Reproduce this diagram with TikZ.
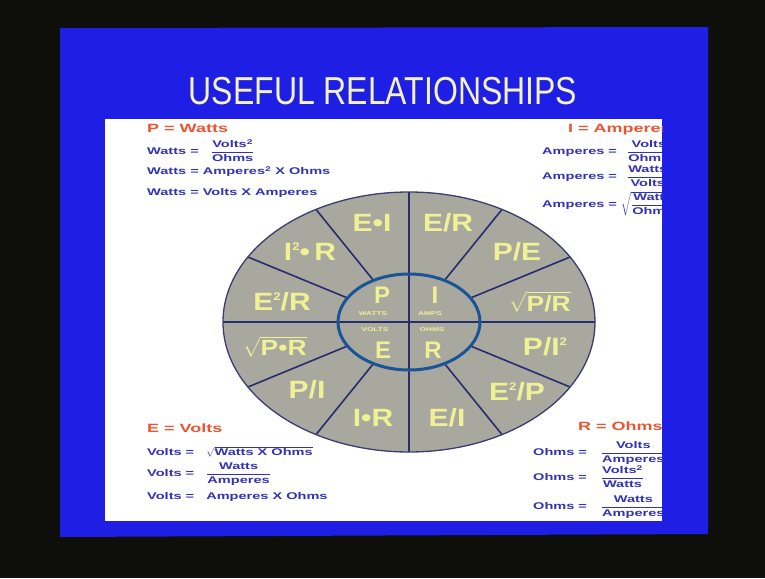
\documentclass[tikz,border=0pt]{standalone}
\usepackage{amsmath}
\usepackage{fontspec}
\setmainfont{Liberation Sans}
\newfontfamily\titlefont[FakeStretch=0.82]{Liberation Sans}
\newfontfamily\wheelfont[FakeStretch=1.2]{Liberation Sans}
\newfontfamily\rulefont[FakeStretch=1.5]{Liberation Sans}
\usetikzlibrary{positioning,calc}

\definecolor{backdrop}{RGB}{14,15,10}
\definecolor{slideblue}{RGB}{30,30,228}
\definecolor{titleyellow}{RGB}{242,242,195}
\definecolor{wheelgray}{RGB}{168,168,158}
\definecolor{spokeblue}{RGB}{40,45,110}
\definecolor{hubblue}{RGB}{25,85,150}
\definecolor{labelyellow}{RGB}{240,240,150}
\definecolor{headred}{RGB}{235,85,50}
\definecolor{ruleblue}{RGB}{50,50,180}

% fraction set at full text size
\newcommand{\ratio}[2]{\genfrac{}{}{0.4pt}{0}{\text{#1}}{\text{#2}}}
% small raised square on the wheel labels
\newcommand{\sqr}{\raisebox{0.75ex}{\fontsize{11}{11}\selectfont 2}}

\begin{document}
\begin{tikzpicture}[x=1pt,y=-1pt,
    sector/.style={text=labelyellow,font=\wheelfont\bfseries\fontsize{25}{25}\selectfont},
    rootsector/.style={sector,font=\wheelfont\bfseries\fontsize{22}{22}\selectfont},
    hub/.style={text=labelyellow,font=\bfseries\fontsize{24}{24}\selectfont},
    unit/.style={text=labelyellow,inner sep=0pt,font=\rulefont\bfseries\fontsize{5.5}{5.5}\selectfont},
    head/.style={anchor=mid west,inner sep=0pt,text=headred,font=\rulefont\bfseries\fontsize{12}{12}\selectfont},
    rule/.style={anchor=mid west,inner sep=0pt,text=ruleblue,font=\rulefont\bfseries\fontsize{9.7}{9.7}\selectfont},
    spoke/.style={draw=spokeblue,line width=1.6pt}]
    \useasboundingbox (0,0) rectangle (765,578);
    \fill[backdrop] (0,0) rectangle (765,578);
    \fill[slideblue] (60,28) -- (708,27) -- (708,534) -- (60,537) -- cycle;
    \node[text=titleyellow,font=\titlefont\fontsize{39}{39}\selectfont,anchor=base] (title) at (383,104) {USEFUL RELATIONSHIPS};
    \fill[white] (105,119) rectangle (662,521);

    % the wheel
    \coordinate (hub) at (409,322);
    \fill[wheelgray] (hub) ellipse [x radius=186, y radius=130];
    \foreach \a in {30,60,120,150,210,240,300,330}
        \draw[spoke] ($(hub)+(\a:71 and 48)$) -- ($(hub)+(\a:186 and 130)$);
    \draw[spoke] ($(hub)+(-186,0)$) -- ($(hub)+(186,0)$);
    \draw[spoke] ($(hub)+(0,-130)$) -- ($(hub)+(0,130)$);
    \draw[draw=spokeblue!80!gray,line width=1.3pt] (hub) ellipse [x radius=186, y radius=130];
    \draw[draw=hubblue,line width=3pt] (hub) ellipse [x radius=71, y radius=48];

    \node[sector] (ei) at (372,223) {E\textbullet I};
    \node[sector] (er) at (448,223) {E/R};
    \node[sector] (pe) at (517,252) {P/E};
    \node[rootsector] (sqpr) at (540,302) {$\sqrt{\text{P/R}}$};
    \node[sector] (pisq) at (545,347) {P/I\sqr};
    \node[sector] (esqp) at (517,392) {E\sqr/P};
    \node[sector] (edi) at (447,418) {E/I};
    \node[sector] (ir) at (373,418) {I\textbullet R};
    \node[sector] (pdi) at (307,390) {P/I};
    \node[rootsector] (sqpxr) at (275,347) {$\sqrt{\text{P\textbullet R}}$};
    \node[sector] (esqr) at (282,302) {E\sqr/R};
    \node[sector] (isqr) at (310,252) {I\sqr\textbullet\,R};

    \node[hub] (p) at (382,295) {P};
    \node[unit] (watts) at (373,314) {WATTS};
    \node[hub] (i) at (435,295) {I};
    \node[unit] (amps) at (430,314) {AMPS};
    \node[unit] (volts) at (375,330) {VOLTS};
    \node[hub] (e) at (383,350) {E};
    \node[unit] (ohms) at (432,330) {OHMS};
    \node[hub] (r) at (433,350) {R};

    % formula lists, cut at the edge of the sheet
    \begin{scope}
        \clip (105,119) rectangle (662,521);
        \node[head] (pw) at (147,130) {P = Watts};
        \node[rule] (w1) at (147,152) {Watts = \hspace{8pt}$\ratio{Volts\textsuperscript{2}}{Ohms}$};
        \node[rule] (w2) at (147,172) {Watts = Amperes\textsuperscript{2} X Ohms};
        \node[rule] (w3) at (147,193) {Watts = Volts X Amperes};

        \node[head] (ia) at (568,130) {I = Amperes};
        \node[rule] (a1) at (542,152) {Amperes = \hspace{6pt}$\ratio{Volts}{Ohms}$};
        \node[rule] (a2) at (542,177) {Amperes = \hspace{6pt}$\ratio{Watts}{Volts}$};
        \node[rule] (a3) at (542,205) {Amperes = $\sqrt{\ratio{Watts}{Ohms}}$};

        \node[head] (ev) at (147,430) {E = Volts};
        \node[rule] (v1) at (147,453) {Volts = \hspace{8pt}$\sqrt{\text{Watts X Ohms}}$};
        \node[rule] (v2) at (147,474) {Volts = \hspace{8pt}$\ratio{Watts}{Amperes}$};
        \node[rule] (v3) at (147,497) {Volts = \hspace{8pt}Amperes X Ohms};

        \node[head] (ro) at (578,428) {R = Ohms};
        \node[rule] (o1) at (533,453) {Ohms = \hspace{10pt}$\ratio{Volts}{Amperes}$};
        \node[rule] (o2) at (533,478) {Ohms = \hspace{10pt}$\ratio{Volts\textsuperscript{2}}{Watts}$};
        \node[rule] (o3) at (533,507) {Ohms = \hspace{10pt}$\ratio{Watts}{Amperes}$};
    \end{scope}
\end{tikzpicture}
\end{document}
